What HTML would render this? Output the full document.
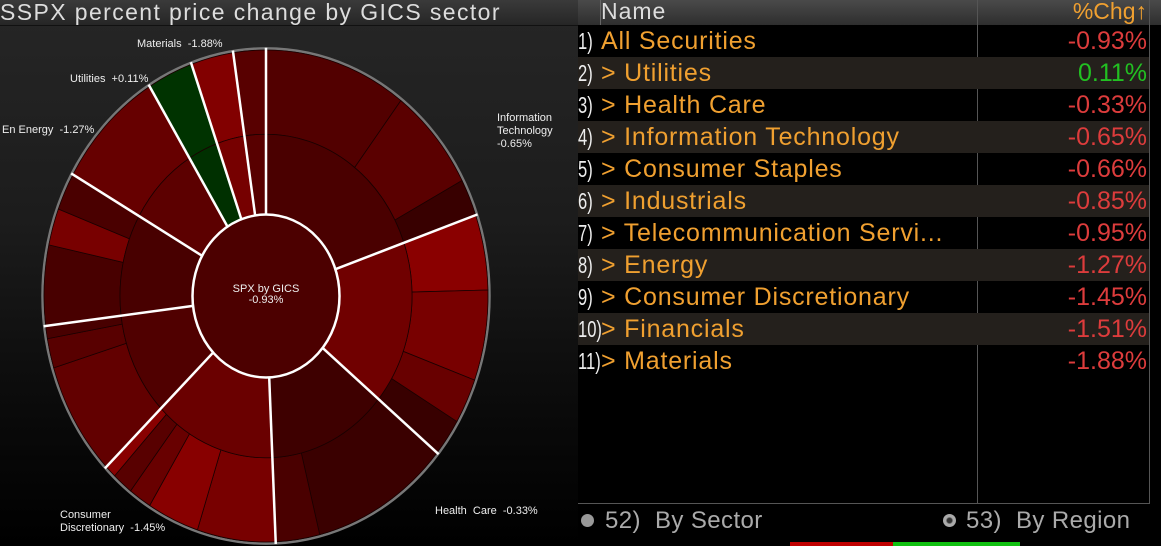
<!DOCTYPE html>
<html><head><meta charset="utf-8"><style>
html,body{margin:0;padding:0;background:#000;width:1161px;height:546px;overflow:hidden;font-family:"Liberation Sans",sans-serif}
#left{position:absolute;left:0;top:0;width:578px;height:546px;background:linear-gradient(#262626,#1c1c1c 40%,#0a0a0a 75%,#000)}
#title{position:absolute;left:0;top:0;width:578px;height:25px;background:linear-gradient(#3a3a3a,#262626);color:#ddd;font-size:23px;line-height:24px;white-space:nowrap;border-bottom:1px solid #111;letter-spacing:1.4px}
#right{position:absolute;left:578px;top:0;width:583px;height:546px;background:#000}
#hdr{position:absolute;left:0;top:0;width:583px;height:25px;background:linear-gradient(#4a4a4a,#2e2e2e)}
.row{position:absolute;left:0;width:571px;height:32px;font-size:25px;line-height:32px;white-space:nowrap}
.row.s{background:#24201c}
.n{position:absolute;left:0;color:#eee;font-size:23px;transform:scaleX(0.72);transform-origin:0 50%}
.t{position:absolute;left:23px;color:#f0a030;letter-spacing:0.8px}
.v{position:absolute;right:2px;color:#dd3c3c;letter-spacing:0px}
.vl{position:absolute;top:0;width:1px;height:504px;background:#555}
</style></head><body>
<div id="left">
<svg id="chart" width="578" height="546" style="position:absolute;left:0;top:0"></svg>
<div id="title">SSPX percent price change by GICS sector</div>
</div>
<div id="right">
<div id="hdr"><span style="position:absolute;left:23px;top:-2px;color:#ddd;font-size:23px;letter-spacing:1px">Name</span><span style="position:absolute;right:14px;top:-2px;color:#f0a030;font-size:23px">%Chg↑</span></div>
<div class="vl" style="left:22px;height:25px;background:#666"></div>
<div class="vl" style="left:399px"></div>
<div class="vl" style="left:571px"></div>
<div id="rows"></div>
<div style="position:absolute;left:0;top:503px;width:572px;height:1px;background:#555"></div>
<div style="position:absolute;left:3px;top:514px;width:13px;height:13px;border-radius:50%;background:#999"></div>
<div style="position:absolute;left:27px;top:507px;color:#aaa;font-size:24px;letter-spacing:0.4px">52)&nbsp; By Sector</div>
<div style="position:absolute;left:365px;top:514px;width:13px;height:13px;border-radius:50%;background:radial-gradient(#333 25%,#aaa 40%)"></div>
<div style="position:absolute;left:388px;top:507px;color:#aaa;font-size:24px;letter-spacing:0.4px">53)&nbsp; By Region</div>
<div style="position:absolute;left:212px;top:542px;width:103px;height:4px;background:#c00000"></div>
<div style="position:absolute;left:315px;top:542px;width:127px;height:4px;background:#10c010"></div>
</div>
<script>
var rows=[["1)","All Securities","-0.93%"],["2)","> Utilities","0.11%"],["3)","> Health Care","-0.33%"],["4)","> Information Technology","-0.65%"],["5)","> Consumer Staples","-0.66%"],["6)","> Industrials","-0.85%"],["7)","> Telecommunication Servi...","-0.95%"],["8)","> Energy","-1.27%"],["9)","> Consumer Discretionary","-1.45%"],["10)","> Financials","-1.51%"],["11)","> Materials","-1.88%"]];
var h="";rows.forEach(function(r,i){h+='<div class="row'+(i%2?' s':'')+'" style="top:'+(25+i*32)+'px"><span class="n">'+r[0]+'</span><span class="t">'+r[1].replace('>','&gt;')+'</span><span class="v"'+(r[2][0]!='-'?' style="color:#22c022"':'')+'>'+r[2]+'</span></div>';});
document.getElementById('rows').innerHTML=h;
var R0=73.5,R1=146,R2=222;
function pt(r,a){a=a*Math.PI/180;return [r*Math.sin(a),-r*Math.cos(a)];}
function arc(r0,r1,a0,a1,c){var p=pt(r1,a0),q=pt(r1,a1),s=pt(r0,a1),t=pt(r0,a0),l=(a1-a0)>180?1:0;
return '<path d="M'+p+' A'+r1+','+r1+' 0 '+l+' 1 '+q+' L'+s+' A'+r0+','+r0+' 0 '+l+' 0 '+t+'Z" fill="'+c+'" stroke="#1a0000" stroke-width="0.8" vector-effect="non-scaling-stroke"/>';}
var mid=[[0,70.8,'#4a0000'],[70.8,129.6,'#700000'],[129.6,177.5,'#3e0000'],[177.5,226,'#6a0000'],[226,263,'#500000'],[263,299.6,'#480000'],[299.6,328.4,'#5c0000'],[328.4,340.4,'#003000'],[340.4,351.5,'#760000'],[351.5,360,'#580000']];
var out=[[0,37.4,'#520000'],[37.4,62,'#5a0000'],[62,70.8,'#380000'],[70.8,88.6,'#8a0000'],[88.6,110,'#780000'],[110,120.7,'#680000'],[120.7,129.6,'#380000'],[129.6,166,'#3a0000'],[166,177.5,'#4a0000'],[177.5,198,'#780000'],[198,211.6,'#880000'],[211.6,217.6,'#680000'],[217.6,223,'#580000'],[223,226,'#880000'],[226,253,'#620000'],[253,260,'#580000'],[260,263,'#480000'],[263,282,'#480000'],[282,290.7,'#780000'],[290.7,299.6,'#4a0000'],[299.6,328.4,'#660000'],[328.4,340.4,'#003300'],[340.4,351.5,'#820000'],[351.5,360,'#580000']];
var g='<g transform="translate(266,296) scale(1,1.108)">';
g+='<circle r="'+(R2+1.5)+'" fill="none" stroke="#777" stroke-width="2.5" vector-effect="non-scaling-stroke"/>';
out.forEach(function(s){g+=arc(R1,R2,s[0],s[1],s[2]);});
mid.forEach(function(s){g+=arc(R0,R1,s[0],s[1],s[2]);});
[0,70.8,129.6,177.5,226,263,299.6,328.4,340.4,351.5].forEach(function(a){var p=pt(R0,a),q=pt(R2+2,a);g+='<line x1="'+p[0]+'" y1="'+p[1]+'" x2="'+q[0]+'" y2="'+q[1]+'" stroke="#fff" stroke-width="2.5" vector-effect="non-scaling-stroke"/>';});
g+='<circle r="'+R0+'" fill="#4c0000" stroke="#fff" stroke-width="2.5" vector-effect="non-scaling-stroke"/></g>';
var L=[[266,292,'SPX by GICS','middle'],[266,303,'-0.93%','middle'],[137,47,'Materials  -1.88%','start'],[70,82,'Utilities  +0.11%','start'],[2,133,'En Energy  -1.27%','start'],[497,121,'Information','start'],[497,134,'Technology','start'],[497,147,'-0.65%','start'],[435,514,'Health  Care  -0.33%','start'],[60,518,'Consumer','start'],[60,531,'Discretionary  -1.45%','start']];
L.forEach(function(l){g+='<text x="'+l[0]+'" y="'+l[1]+'" fill="#eee" font-size="11" font-family="Liberation Sans,sans-serif" text-anchor="'+l[3]+'" xml:space="preserve">'+l[2]+'</text>';});
document.getElementById('chart').innerHTML=g;
</script>
</body></html>
